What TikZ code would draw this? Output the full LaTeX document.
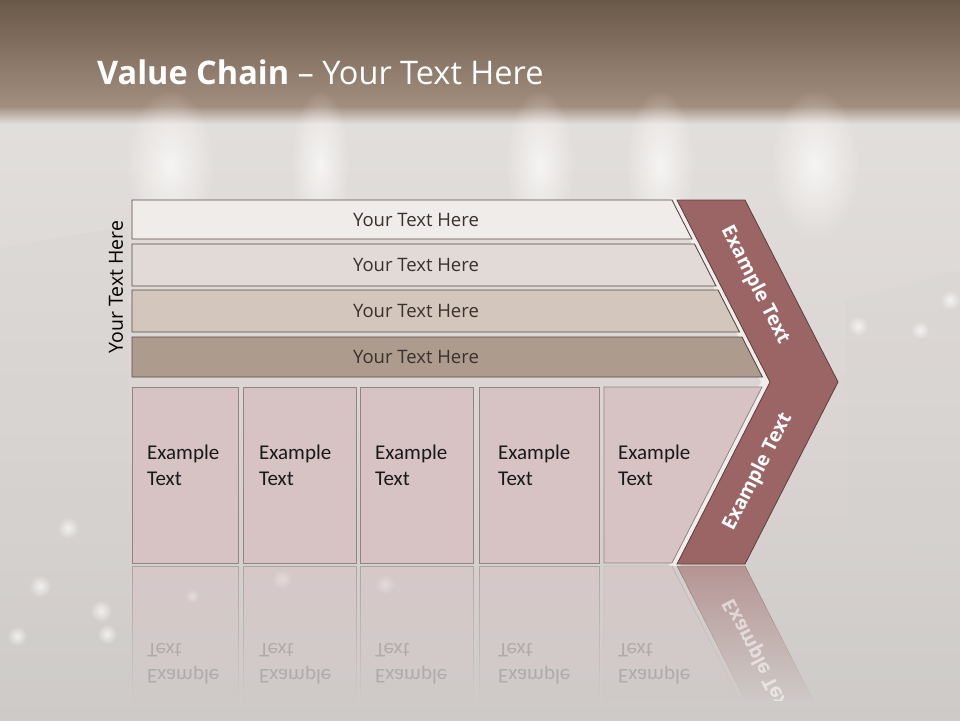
\documentclass[tikz,border=0pt]{standalone}
\usepackage{fontspec}
\setmainfont{Open Sans}
\newfontfamily\calib{Carlito}
\usetikzlibrary{fadings}
\definecolor{hdrtop}{HTML}{6A5848}
\definecolor{hdrbot}{HTML}{A28E7E}
\definecolor{bodytop}{HTML}{E2DEDB}
\definecolor{bodymid}{HTML}{DAD5D2}
\definecolor{bodybot}{HTML}{CECAC7}
\definecolor{rowA}{HTML}{EFECEA}
\definecolor{rowB}{HTML}{E1DAD6}
\definecolor{rowC}{HTML}{D3C6BD}
\definecolor{rowD}{HTML}{AD9B8D}
\definecolor{rowline}{HTML}{5A4A44}
\definecolor{boxfill}{HTML}{D7C3C4}
\definecolor{boxline}{HTML}{8F8585}
\definecolor{chev}{HTML}{9B6565}
\definecolor{chevline}{HTML}{5C3E3E}
\definecolor{rowtext}{HTML}{3A302C}
\definecolor{gapcol}{HTML}{F0EDEA}
\tikzfading[name=fadedown, top color=transparent!45, bottom color=transparent!100]
\tikzfading[name=softblob, inner color=transparent!30, outer color=transparent!100]
\begin{document}
\begin{tikzpicture}[x=1pt,y=-1pt,
  rowbox/.style={draw=rowline, line width=0.9pt, line join=miter},
  boxshape/.style={draw=boxline, fill=boxfill, line width=0.8pt},
  chevshape/.style={draw=chevline, fill=chev, line width=0.8pt, line join=miter},
  rowtxt/.style={inner sep=0pt, text=rowtext, font=\fontsize{18.5}{21}\selectfont},
  boxtxt/.style={inner sep=0pt, anchor=west, align=left, text=black!90, font=\calib\fontsize{21}{26}\selectfont},
  chevtxt/.style={inner sep=0pt, text=white, font=\bfseries\fontsize{19.5}{22}\selectfont},
  refltxt/.style={boxtxt, transform shape, text=black!55, opacity=0.35},
  reflshape/.style={path fading=fadedown},
  blob/.style={fill=white, path fading=softblob}]
\useasboundingbox (0,0) rectangle (960,720);
% ---------- background ----------
\shade[top color=hdrtop, bottom color=hdrbot] (0,0) rectangle (960,106);
\shade[top color=hdrbot, bottom color=bodytop] (0,106) rectangle (960,124);
\shade[top color=bodytop, bottom color=bodymid] (0,124) rectangle (960,420);
\shade[top color=bodymid, bottom color=bodybot] (0,420) rectangle (960,720);
% soft light streaks of the photo
\foreach \sx/\sw in {170/45, 320/30, 540/35, 660/35, 815/45}{
  \path[blob] (\sx,165) ellipse ({\sw} and 75);
}
% darker cloth areas
\fill[black!18, opacity=0.22] (0,248) -- (128,226) -- (128,565) -- (0,600) -- cycle;
\fill[black!18, opacity=0.18] (845,300) -- (960,270) -- (960,560) -- (850,540) -- cycle;
% bokeh dots
\foreach \bx/\by/\br in {68/528/11, 40/586/11, 101/611/11, 17/636/10, 107/634/10, 282/579/10, 385/584/10, 192/596/7,
                         858/326/10, 920/330/9, 950/300/10}{
  \path[blob] (\bx,\by) circle (\br);
}
% ---------- light gap along chevron ----------
\fill[gapcol] (669,198) -- (680,198) -- (772,382) -- (680,566) -- (669,566) -- (761,382) -- cycle;
% ---------- rows ----------
\path[rowbox, fill=rowA] (132,200) -- (672,200) -- (691.9,239) -- (132,239) -- cycle;
\path[rowbox, fill=rowB] (132,244) -- (694.5,244) -- (716,286) -- (132,286) -- cycle;
\path[rowbox, fill=rowC] (132,290) -- (718,290) -- (739.5,332) -- (132,332) -- cycle;
\path[rowbox, fill=rowD] (132,337) -- (742,337) -- (762.4,377) -- (132,377) -- cycle;
\node[rowtxt] (r1) at (416,219.5) {Your Text Here};
\node[rowtxt] (r2) at (416,265) {Your Text Here};
\node[rowtxt] (r3) at (416,311) {Your Text Here};
\node[rowtxt] (r4) at (416,357) {Your Text Here};
\node[rowtxt, text=black, rotate=90, font=\fontsize{19.5}{22}\selectfont] (side) at (116,287) {Your Text Here};
% ---------- boxes ----------
\path[boxshape] (132,387) rectangle (238,563);
\path[boxshape] (243,387) rectangle (356,563);
\path[boxshape] (360,387) rectangle (473,563);
\path[boxshape] (479,387) rectangle (599,563);
\path[boxshape] (604,387) -- (762,387) -- (672,563) -- (604,563) -- cycle;
\node[boxtxt] (b1) at (147,465) {Example\\Text};
\node[boxtxt] (b2) at (259,465) {Example\\Text};
\node[boxtxt] (b3) at (375,465) {Example\\Text};
\node[boxtxt] (b4) at (498,465) {Example\\Text};
\node[boxtxt] (b5) at (618,465) {Example\\Text};
% ---------- chevron ----------
\path[chevshape] (677,200) -- (745,200) -- (838,382) -- (745,564) -- (677,564) -- (770,382) -- cycle;
\node[chevtxt, rotate=-62.9] (c1) at (755,285) {Example Text};
\node[chevtxt, rotate=62.9] (c2) at (758,472) {Example Text};
% ---------- reflections ----------
\path[reflshape, fill=boxfill, draw=boxline] (132,566) rectangle (238,702);
\path[reflshape, fill=boxfill, draw=boxline] (243,566) rectangle (356,702);
\path[reflshape, fill=boxfill, draw=boxline] (360,566) rectangle (473,702);
\path[reflshape, fill=boxfill, draw=boxline] (479,566) rectangle (599,702);
\path[reflshape, fill=boxfill, draw=boxline] (604,566) -- (672,566) -- (741,702) -- (604,702) -- cycle;
\path[reflshape, fill=chev, draw=chevline] (677,566) -- (745,566) -- (814,702) -- (746,702) -- cycle;
\begin{scope}
  \clip (0,566) rectangle (960,700);
  \begin{scope}[shift={(0,1129)}, yscale=-1]
    \node[refltxt] (m1) at (147,465) {Example\\Text};
    \node[refltxt] (m2) at (259,465) {Example\\Text};
    \node[refltxt] (m3) at (375,465) {Example\\Text};
    \node[refltxt] (m4) at (498,465) {Example\\Text};
    \node[refltxt] (m5) at (618,465) {Example\\Text};
    \node[chevtxt, transform shape, rotate=62.9, opacity=0.55] (mc) at (758,472) {Example Text};
  \end{scope}
\end{scope}
% ---------- title ----------
\node[anchor=base west, inner sep=0pt, text=white, font=\fontsize{32.5}{38}\selectfont] (title) at (97,84)
  {\textbf{Value Chain} – Your Text Here};
\end{tikzpicture}
\end{document}
